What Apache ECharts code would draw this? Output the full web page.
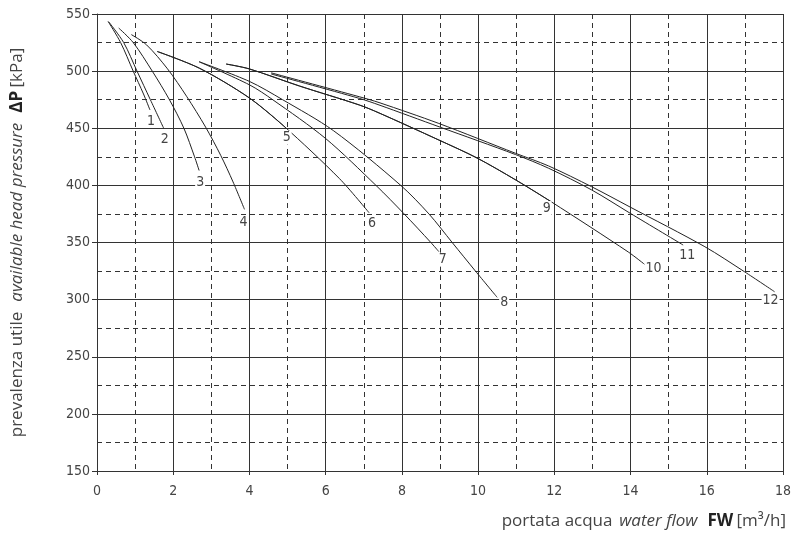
<!DOCTYPE html>
<html>
<head>
<meta charset="utf-8">
<script src="https://cdn.jsdelivr.net/npm/echarts@6/dist/echarts.min.js"></script>
<style>html,body{margin:0;padding:0;background:#fff}#c{width:794px;height:540px}</style>
</head>
<body>
<div id="c"></div>
<script>
// Curve data: water flow [m3/h] and available head pressure [kPa]
const flow1 = [0.29, 0.62, 0.95, 1.22, 1.39];
const dp1   = [543.6, 525, 500, 480, 466];
const flow2 = [0.31, 0.70, 1.05, 1.40, 1.75];
const dp2   = [543, 525, 500, 475, 450];
const flow3 = [0.57, 0.95, 1.45, 1.90, 2.28, 2.56, 2.68];
const dp3   = [537.7, 525, 500, 475, 450, 425, 413];
const flow4 = [0.90, 1.30, 1.85, 2.35, 2.85, 3.25, 3.57, 3.87];
const dp4   = [532, 523, 502, 478, 451, 426, 403, 379];
const flow5 = [1.58, 2.69, 4.00, 4.95];
const dp5   = [517.2, 502.5, 476.5, 450.5];
const flow6 = [1.58, 2.69, 4.00, 4.90, 6.36, 7.14];
const dp6   = [517.2, 502.5, 476.5, 452, 406, 376];
const flow7 = [2.68, 4.00, 4.61, 6.00, 7.32, 8.06, 8.76, 8.97];
const dp7   = [508.2, 488, 475, 441, 400, 375, 350, 342];
const flow8 = [2.68, 4.00, 4.87, 6.20, 7.97, 8.71, 9.32, 9.93, 10.50];
const dp8   = [508.2, 491, 475, 448, 400, 375, 350, 325, 302];
const flow9 = [3.39, 3.99, 5.31, 6.88, 7.40, 8.97, 9.97, 10.99, 11.93];
const dp9   = [506.2, 502, 487, 470.4, 463.4, 439.7, 424, 404.7, 385.4];
const flow10 = [3.39, 3.99, 5.31, 6.88, 7.40, 8.97, 9.97, 10.99, 11.93, 13.94, 14.39];
const dp10   = [506.2, 502, 487, 470.4, 463.4, 439.7, 424, 404.7, 385.4, 341.7, 330.3];
const flow11 = [4.57, 6.88, 7.40, 9.00, 10.98, 11.85, 12.98, 13.99, 15.38];
const dp11   = [497.5, 476.2, 470.4, 451, 427, 415, 396, 375.6, 347.8];
const flow12 = [4.57, 6.88, 7.40, 8.97, 10.98, 11.85, 12.98, 13.99, 15.95, 16.99, 17.78];
const dp12   = [498.5, 477.6, 472.5, 454.2, 428.1, 417, 398.8, 381, 346.3, 324.4, 306.9];

const curveNames = ['1','2','3','4','5','6','7','8','9','10','11','12'];
const flows = [flow1, flow2, flow3, flow4, flow5, flow6, flow7, flow8, flow9, flow10, flow11, flow12];
const dps   = [dp1, dp2, dp3, dp4, dp5, dp6, dp7, dp8, dp9, dp10, dp11, dp12];

// Axis ticks
const xMin = 0, xMax = 18, xStep = 2;
const yMin = 150, yMax = 550, yStep = 50;

// label offsets (style only)
const labelOffsets = [[1,11],[1,11],[1,12],[-1,13],[1,10],[3,11],[4,8],[7,5],[-5,6],[8,3],[4,10],[-4,9]];

const tickFont = '"Liberation Sans Narrow", "DejaVu Sans Condensed", sans-serif';
const titleFont = '"Open Sans", Lato, sans-serif';
const textColor = '#444';

const series = curveNames.map((n, i) => ({
  name: n,
  type: 'line',
  smooth: 0.3,
  symbol: 'none',
  lineStyle: { color: '#222', width: 1 },
  data: flows[i].map((f, k) => [f, dps[i][k]]),
  endLabel: {
    show: true,
    formatter: n,
    distance: 0,
    offset: labelOffsets[i],
    align: 'center',
    verticalAlign: 'middle',
    color: textColor,
    fontFamily: tickFont,
    fontSize: 14,
    backgroundColor: '#fff',
    padding: [0, 1]
  },
  z: 3
}));

function richName(size) {
  return {
    a: { fontFamily: titleFont, fontSize: size, color: textColor },
    b: { fontFamily: titleFont, fontSize: size, fontStyle: 'italic', color: textColor },
    c: { fontFamily: titleFont, fontSize: size, fontWeight: 'bold', color: '#222' }
  };
}

const chart = echarts.init(document.getElementById('c'), null, { renderer: 'canvas' });
chart.setOption({
  animation: false,
  backgroundColor: '#fff',
  grid: { left: 97, right: 9, top: 14, bottom: 69, containLabel: false },
  xAxis: {
    type: 'value', min: xMin, max: xMax, interval: xStep,
    name: '{a|portata acqua}  {b|water flow}   {c|FW} {a|[m³/h]}',
    nameLocation: 'end', nameGap: 3,
    nameTextStyle: {
      align: 'right', verticalAlign: 'top', padding: [42, 0, 0, 0],
      rich: richName(17)
    },
    axisLine: { show: true, lineStyle: { color: '#333', width: 1 } },
    axisTick: { show: true, length: 4, lineStyle: { color: '#333' } },
    minorTick: { show: false, splitNumber: 2 },
    axisLabel: { color: textColor, fontFamily: tickFont, fontSize: 14, margin: 13 },
    splitLine: { show: true, lineStyle: { color: '#333', width: 1 } },
    minorSplitLine: { show: true, lineStyle: { color: '#333', width: 1, type: [5, 4] } }
  },
  yAxis: {
    type: 'value', min: yMin, max: yMax, interval: yStep,
    name: '{a|prevalenza utile}   {b|available head pressure}   {c|ΔP} {a|[kPa]}',
    nameLocation: 'middle', nameGap: 71, nameRotate: 90,
    nameTextStyle: { rich: richName(17) },
    axisLine: { show: true, lineStyle: { color: '#333', width: 1 } },
    axisTick: { show: true, length: 5, lineStyle: { color: '#333' } },
    minorTick: { show: false, splitNumber: 2 },
    axisLabel: { color: textColor, fontFamily: tickFont, fontSize: 14, margin: 7 },
    splitLine: { show: true, lineStyle: { color: '#333', width: 1 } },
    minorSplitLine: { show: true, lineStyle: { color: '#333', width: 1, type: [5, 4] } }
  },
  series: series
});
</script>
</body>
</html>
